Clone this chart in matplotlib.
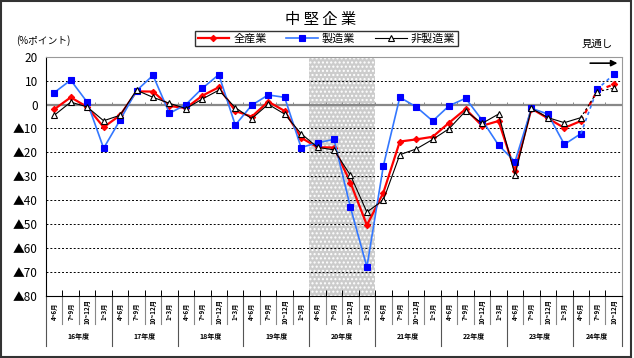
import matplotlib
matplotlib.use("Agg")
import matplotlib.pyplot as plt
from matplotlib.patches import Rectangle
from matplotlib.lines import Line2D
import numpy as np

plt.rcParams['font.family'] = ['Noto Sans CJK JP', 'DejaVu Sans']

# data (%ポイント), 16年度4-6月 .. 24年度10-12月 (last two are forecasts)
years = ["16年度", "17年度", "18年度", "19年度", "20年度", "21年度", "22年度", "23年度", "24年度"]
quarters = ["4~6月", "7~9月", "10~12月", "1~3月"]
all_ind = [-2, 3, -1, -9.5, -4.5, 5.5, 5.4, -0.6, -1.5, 3.7, 7.2,
           -2.7, -5.1, 1.2, -2.7, -13.9, -17.9, -18, -32.7, -50.5,
           -36.9, -15.5, -14.6, -13.5, -7.6, -1.9, -8.9, -6.9, -27.8,
           -1.7, -5.8, -9.8, -6.9, 5.8, 8.4]
manuf = [5, 10.2, 1, -18.3, -6.5, 5.8, 12.2, -3.7, 0, 6.8, 12.5,
         -8.6, -0.3, 4, 3, -18, -16, -14.6, -43, -68,
         -25.7, 3, -1, -6.9, -0.5, 2.6, -6.5, -17, -23.9,
         -1.6, -4, -16.7, -12.2, 6.4, 12.6]
nonmanuf = [-4.5, 1, -1, -6.8, -4.5, 6, 3, 0.5, -1.7, 2.3, 6,
            -1.3, -5.9, 0.1, -4, -12.2, -17.9, -19, -29.6, -45,
            -40, -21, -18.6, -14.6, -10.1, -2.7, -7.9, -4, -29.5,
            -1.6, -5.5, -7.6, -5.5, 5.4, 6.8]
n_actual = 33
shade_year = "20年度"

labels = []
for y in years:
    labels += quarters
labels = labels[:len(all_ind)]
x = np.arange(len(all_ind))

fig = plt.figure(figsize=(6.34, 3.58), dpi=100)
ax = fig.add_axes([0.0726, 0.174, 0.9084, 0.6676])

# shaded period
k = years.index(shade_year) * 4
ax.axvspan(k - 0.5, k + 3.5, facecolor='#cccccc', edgecolor='white', hatch='....', linewidth=0, zorder=0)

for yv in range(-70, 20, 10):
    if yv != 0:
        ax.axhline(yv, color='black', lw=0.7, ls=(0, (2, 2)), zorder=1)
ax.axhline(0, color='#888888', lw=1.6, zorder=1)
ax.vlines(np.arange(len(all_ind) + 1) - 0.5, 0, 1.0, color='#888888', lw=0.7, zorder=1)

series = [
    (all_ind, '#ff0000', '#ff0000', 'D', 3.2, '#ff0000', 1.6, "全産業"),
    (manuf, '#3377ff', '#0000ff', 's', 4.2, '#0000ff', 1.2, "製造業"),
    (nonmanuf, '#000000', '#000000', '^', 4.2, 'white', 0.8, "非製造業"),
]
handles = []
for vals, lc, mc, m, ms, mfc, lw, name in series:
    ax.plot(x[:n_actual], vals[:n_actual], color=lc, lw=lw, marker=m, ms=ms,
            mec=mc, mfc=mfc, mew=0.8, zorder=3)
    ax.plot(x[n_actual - 1:], vals[n_actual - 1:], color=lc, lw=lw, ls=(0, (2, 2)), zorder=3)
    ax.plot(x[n_actual:], vals[n_actual:], ls='none', marker=m, ms=ms,
            mec=mc, mfc=mfc, mew=0.8, zorder=4)
    handles.append(Line2D([], [], color=lc, lw=lw, marker=m, ms=ms, mec=mc, mfc=mfc, mew=0.8, label=name))

ax.set_xlim(-0.5, len(all_ind) - 0.5)
ax.set_ylim(-80, 20)
yt = list(range(20, -90, -10))
ax.set_yticks(yt)
ax.set_yticklabels([str(v) if v >= 0 else "▲" + str(-v) for v in yt], fontsize=8.5)
ax.tick_params(axis='y', length=0, pad=6)
ax.set_xticks(np.arange(len(all_ind) + 1) - 0.5)
ax.set_xticklabels([])
ax.tick_params(axis='x', direction='in', length=4, width=0.7)
for s in ['top', 'right']:
    ax.spines[s].set_color('#999999')
    ax.spines[s].set_linestyle((0, (1, 1)))
ax.spines['left'].set_linewidth(0.8)
ax.spines['bottom'].set_linewidth(0.8)

# category labels below the axis
tr = ax.get_xaxis_transform()
for i, lab in enumerate(labels):
    ax.text(i, -0.065, lab, rotation=90, ha='center', va='center', fontsize=4.5,
            fontweight='bold', transform=tr, clip_on=False)
for b in range(len(all_ind) + 1):
    long = b % 4 == 0 or b == len(all_ind)
    ax.plot([b - 0.5, b - 0.5], [0, -0.21 if long else -0.12], transform=tr,
            color='#555555' if long else '#888888', lw=0.8, clip_on=False)
for j, yname in enumerate(years):
    start = j * 4
    end = min(start + 4, len(all_ind))
    ax.text((start + end - 1) / 2, -0.17, yname, ha='center', va='center', fontsize=5,
            fontweight='bold', transform=tr, clip_on=False)

# forecast arrow
ax.annotate("", xy=(0.997, 0.973), xytext=(0.94, 0.973), xycoords='axes fraction',
            arrowprops=dict(arrowstyle='-|>', color='black', lw=1.2, mutation_scale=9))
fig.text(0.966, 0.877, "見通し", fontsize=7.5, ha='right', va='center')

fig.text(0.505, 0.945, "中 堅 企 業", ha='center', va='center', fontsize=11)
fig.text(0.025, 0.888, "(%ポイント)", fontsize=7, va='center')
fig.legend(handles=handles, ncol=3, loc='center', bbox_to_anchor=(0.515, 0.893),
           fontsize=8, frameon=True, fancybox=False, edgecolor='black',
           handlelength=2.8, columnspacing=1.8, borderpad=0.2, handletextpad=0.4)

fig.patches.append(Rectangle((0.002, 0.003), 0.994, 0.993, transform=fig.transFigure,
                             fill=False, edgecolor='#333333', lw=1.5))
fig.savefig("out.png", dpi=100)
